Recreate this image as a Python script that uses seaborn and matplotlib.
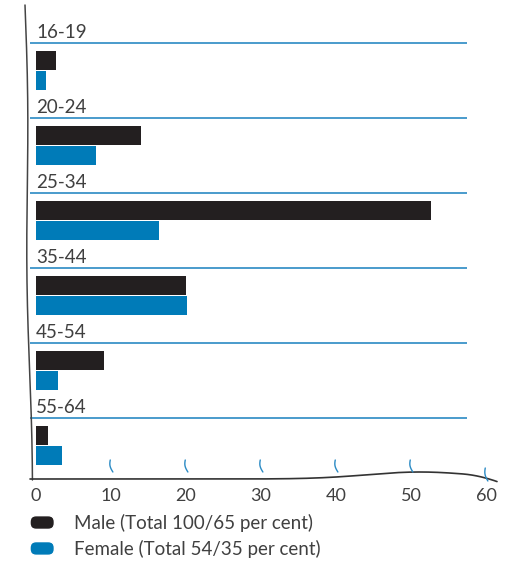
import numpy as np
import pandas as pd
import matplotlib
matplotlib.use("Agg")
import matplotlib.pyplot as plt
import seaborn as sns
from matplotlib.patches import Patch, FancyBboxPatch
from matplotlib.legend_handler import HandlerPatch

# ---- Data ----
ages = ["16-19", "20-24", "25-34", "35-44", "45-54", "55-64"]
male = [2.7, 14.0, 52.7, 20.0, 9.1, 1.6]
female = [1.3, 8.0, 16.4, 20.1, 2.9, 3.5]
x_ticks = [0, 10, 20, 30, 40, 50, 60]
legend_labels = ["Male (Total 100/65 per cent)", "Female (Total 54/35 per cent)"]

BLACK = "#231f20"
BLUE = "#007bb8"
LINE_BLUE = "#2a8ac4"
TEXT = "#404040"

df = pd.DataFrame({
    "age": ages * 2,
    "value": male + female,
    "sex": ["Male"] * len(ages) + ["Female"] * len(ages),
})

sns.set_style("white")
plt.rcParams["font.family"] = ["Lato", "DejaVu Sans"]

W, H = 511, 564
fig = plt.figure(figsize=(W / 100, H / 100), dpi=100)
ax = fig.add_axes([20 / W, 1 - 478 / H, 480 / W, 473 / H])

sns.barplot(data=df, y="age", x="value", hue="sex", orient="h",
            palette=[BLACK, BLUE], width=0.53, gap=0.03, errorbar=None,
            saturation=1, linewidth=0, legend=False, ax=ax)

# pixel helpers for the hand-drawn decoration (0 at px 36, 7.5 px per unit)
px2x = lambda p: (np.asarray(p) - 36) / 7.5
px2y = lambda p: (np.asarray(p) - 70.5) / 75

ax.set_xlim(px2x(20), px2x(500))
ax.set_ylim(px2y(478), px2y(5))
for s in ax.spines.values():
    s.set_visible(False)

# ---- separator lines + group labels ----
for i, lab in enumerate(ages):
    ly = i - 27.5 / 75
    ax.plot([px2x(30), px2x(467)], [ly, ly], color=LINE_BLUE, lw=1.2,
            solid_capstyle="butt", zorder=1)
    ax.text(0, ly - 5 / 75, lab, fontsize=13.5, color=TEXT, va="baseline",
            ha="left")

# ---- hand-drawn axes ----
t = np.linspace(0, 1, 200)
lx = 25 + 6 * t + 1.5 * np.sin(2 * np.pi * 1.3 * t)
ly_ = 5 + 475 * t
ax.plot(px2x(lx), px2y(ly_), color="#444444", lw=1.1, clip_on=False)

bx = np.linspace(30, 497, 300)
by = 479 - 7 * np.exp(-((bx - 420) / 75) ** 2) + 5 * np.clip((bx - 462) / 35, 0, None) ** 2
ax.plot(px2x(bx), px2y(by), color="#333333", lw=1.2, clip_on=False)

# blue squiggle ticks
for tk in x_ticks[1:]:
    s = np.linspace(0, 1, 20)
    sx = tk + 0.35 * s - 0.1 - 0.2 * np.sin(np.pi * s)
    sy = px2y(460 + 12 * s) if tk < 60 else px2y(468 + 13 * s)
    ax.plot(sx, sy, color=LINE_BLUE, lw=1.0, clip_on=False)

ax.set_xticks(x_ticks)
ax.set_xticklabels([str(v) for v in x_ticks], fontsize=13, color=TEXT)
ax.tick_params(axis="x", length=0, pad=7)
ax.set_yticks([])
ax.set_xlabel("")
ax.set_ylabel("")


# ---- legend with rounded blobs ----
def make_blob(legend, orig_handle, xdescent, ydescent, width, height, fontsize):
    return FancyBboxPatch((-xdescent, -ydescent), width, height,
                          boxstyle="round,pad=0,rounding_size=%f" % (height * 0.45))


handles = [Patch(facecolor=BLACK), Patch(facecolor=BLUE)]
leg = fig.legend(handles, legend_labels, loc="upper left",
                 bbox_to_anchor=(30 / W, 1 - 514 / H), frameon=False,
                 prop={"size": 13.5}, handlelength=1.3, handleheight=0.75,
                 handletextpad=1.05, labelspacing=0.42, borderpad=0,
                 borderaxespad=0,
                 handler_map={Patch: HandlerPatch(patch_func=make_blob)})
for txt in leg.get_texts():
    txt.set_color(TEXT)

fig.savefig("out.png", dpi=100)
